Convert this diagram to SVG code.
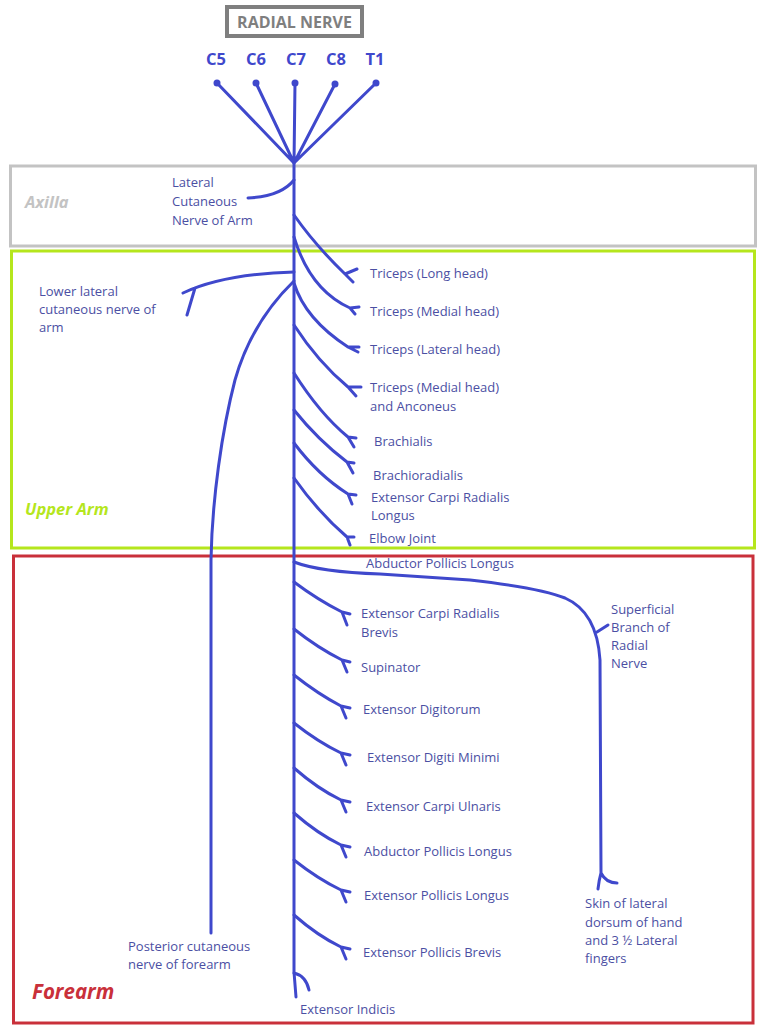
<svg xmlns="http://www.w3.org/2000/svg" width="767" height="1032" viewBox="0 0 767 1032">
<style>
.n{fill:none;stroke:#3f48cc;stroke-width:3;stroke-linecap:round;stroke-linejoin:round}
.t{font-family:"Open Sans","Noto Sans",sans-serif;font-size:13px;fill:#4b4fa3}
.c{font-family:"Open Sans","Noto Sans",sans-serif;font-size:16.5px;font-weight:bold;fill:#3f48cc;text-anchor:middle}
.r{font-family:"Open Sans","Noto Sans",sans-serif;font-weight:bold;font-style:italic}
</style>
<rect width="767" height="1032" fill="#fff"/>
<g id="title">
<rect x="227" y="7" width="135" height="29" fill="#fff" stroke="#7f7f7f" stroke-width="4"/>
<text x="294.5" y="27.5" font-family="Open Sans,Noto Sans,sans-serif" font-size="16" font-weight="bold" fill="#7f7f7f" text-anchor="middle">RADIAL NERVE</text>
</g>
<g id="regions">
<g id="axilla"><rect x="10.5" y="166" width="745" height="80" fill="none" stroke="#c3c3c3" stroke-width="3"/>
<text class="r" x="25" y="208" font-size="16.5" fill="#c3c3c3">Axilla</text></g>
<g id="upper-arm"><rect x="11.5" y="251" width="743" height="297" fill="none" stroke="#b5e61d" stroke-width="3"/>
<text class="r" x="25" y="515" font-size="16.5" fill="#b5e61d">Upper Arm</text></g>
<g id="forearm"><rect x="13.5" y="556" width="739.5" height="467" fill="none" stroke="#c9303a" stroke-width="3"/>
<text class="r" x="32" y="999" font-size="20.5" fill="#c9303a">Forearm</text></g>
</g>
<g id="roots">
<text class="c" x="216" y="65">C5</text>
<text class="c" x="256" y="65">C6</text>
<text class="c" x="296" y="65">C7</text>
<text class="c" x="336" y="65">C8</text>
<text class="c" x="375" y="65">T1</text>
<g fill="#3f48cc"><circle cx="217" cy="83" r="3.5"/><circle cx="256" cy="83" r="3.5"/><circle cx="295" cy="83" r="3.5"/><circle cx="335" cy="84" r="3.5"/><circle cx="376" cy="83" r="3.5"/></g>
</g>
<g id="connectors" class="n">
<path d="M217,83 L294,163 M256,83 L294,163 M295,83 L294,163 M335,84 L294,163 M376,83 L294,163"/>
<path d="M294,163 L294,972 L296,997"/>
<path d="M294,180 C286,190 270,197 248,198"/>
<path d="M294,272 C260,273 215,278 183,293 M195,288 L187,315"/>
<path d="M294,281 C262,312 245,345 235,380 C222,430 212,500 211,560 L211,933"/>
<path d="M294,215 Q315,245 345,274 M345,274 L357,269 M345,274 L353,282"/>
<path d="M294,237 Q310,290 350,308 M350,308 L359,307 M350,308 L355,314"/>
<path d="M294,283 Q305,319 348,347 M348,347 L359,347 M348,347 L358,352"/>
<path d="M294,325 Q318,362 348,387 M348,387 L361,387 M348,387 L356,396"/>
<path d="M294,373 Q320,414 348,437 M348,437 L356,438 M348,437 L354,447"/>
<path d="M294,410 Q318,440 347,462 M347,462 L354,463 M347,462 L353,473"/>
<path d="M294,443 Q318,475 348,494 M348,494 L356,495 M348,494 L352,504"/>
<path d="M294,478 Q318,512 347,537 M347,537 L354,537 M347,537 L350,545"/>
<path d="M294,562 Q320,572 380,574 L470,580 Q540,588 565,598 Q597,612 600,660 L601,873 M597,632 L608,625 M601,873 Q599,880 598,889 M601,873 Q606,883 617,883"/>
<path d="M294,582 Q318,600 342,612 M342,612 L350,614 M342,612 L347,625"/>
<path d="M294,629 Q318,648 342,660 M342,660 L350,662 M342,660 L347,672"/>
<path d="M294,675 Q318,694 341,706 M341,706 L350,708 M341,706 L346,718"/>
<path d="M294,723 Q318,742 341,753 M341,753 L350,755 M341,753 L346,765"/>
<path d="M294,768 Q318,789 341,800 M341,800 L350,802 M341,800 L346,812"/>
<path d="M294,813 Q318,834 341,845 M341,845 L350,847 M341,845 L346,857"/>
<path d="M294,860 Q318,879 341,890 M341,890 L350,892 M341,890 L346,902"/>
<path d="M294,915 Q318,936 341,947 M341,947 L350,949 M341,947 L346,959"/>
<path d="M294,973 Q306,976 309,990"/>
</g>
<g id="n-lateral-cutaneous"><text class="t" x="172" y="187">Lateral</text><text class="t" x="172" y="206">Cutaneous</text><text class="t" x="172" y="225">Nerve of Arm</text></g>
<g id="n-lower-lateral"><text class="t" x="39" y="296">Lower lateral</text><text class="t" x="39" y="314">cutaneous nerve of</text><text class="t" x="39" y="332">arm</text></g>
<g id="n-triceps-long"><text class="t" x="370" y="278">Triceps (Long head)</text></g>
<g id="n-triceps-medial"><text class="t" x="370" y="316">Triceps (Medial head)</text></g>
<g id="n-triceps-lateral"><text class="t" x="370" y="354">Triceps (Lateral head)</text></g>
<g id="n-triceps-anconeus"><text class="t" x="370" y="392">Triceps (Medial head)</text><text class="t" x="370" y="411">and Anconeus</text></g>
<g id="n-brachialis"><text class="t" x="374" y="446">Brachialis</text></g>
<g id="n-brachioradialis"><text class="t" x="373" y="480">Brachioradialis</text></g>
<g id="n-ecrl"><text class="t" x="371" y="502">Extensor Carpi Radialis</text><text class="t" x="371" y="520">Longus</text></g>
<g id="n-elbow"><text class="t" x="369" y="543">Elbow Joint</text></g>
<g id="n-apl-top"><text class="t" x="366" y="568">Abductor Pollicis Longus</text></g>
<g id="n-superficial"><text class="t" x="611" y="614">Superficial</text><text class="t" x="611" y="632">Branch of</text><text class="t" x="611" y="650">Radial</text><text class="t" x="611" y="668">Nerve</text></g>
<g id="n-ecrb"><text class="t" x="361" y="618">Extensor Carpi Radialis</text><text class="t" x="361" y="637">Brevis</text></g>
<g id="n-supinator"><text class="t" x="361" y="672">Supinator</text></g>
<g id="n-ed"><text class="t" x="363" y="714">Extensor Digitorum</text></g>
<g id="n-edm"><text class="t" x="367" y="762">Extensor Digiti Minimi</text></g>
<g id="n-ecu"><text class="t" x="366" y="811">Extensor Carpi Ulnaris</text></g>
<g id="n-apl"><text class="t" x="364" y="856">Abductor Pollicis Longus</text></g>
<g id="n-epl"><text class="t" x="364" y="900">Extensor Pollicis Longus</text></g>
<g id="n-epb"><text class="t" x="363" y="957">Extensor Pollicis Brevis</text></g>
<g id="n-ei"><text class="t" x="300" y="1014">Extensor Indicis</text></g>
<g id="n-posterior"><text class="t" x="128" y="951">Posterior cutaneous</text><text class="t" x="128" y="969">nerve of forearm</text></g>
<g id="n-skin"><text class="t" x="585" y="908">Skin of lateral</text><text class="t" x="585" y="927">dorsum of hand</text><text class="t" x="585" y="945">and 3 ½ Lateral</text><text class="t" x="585" y="963">fingers</text></g>
</svg>
